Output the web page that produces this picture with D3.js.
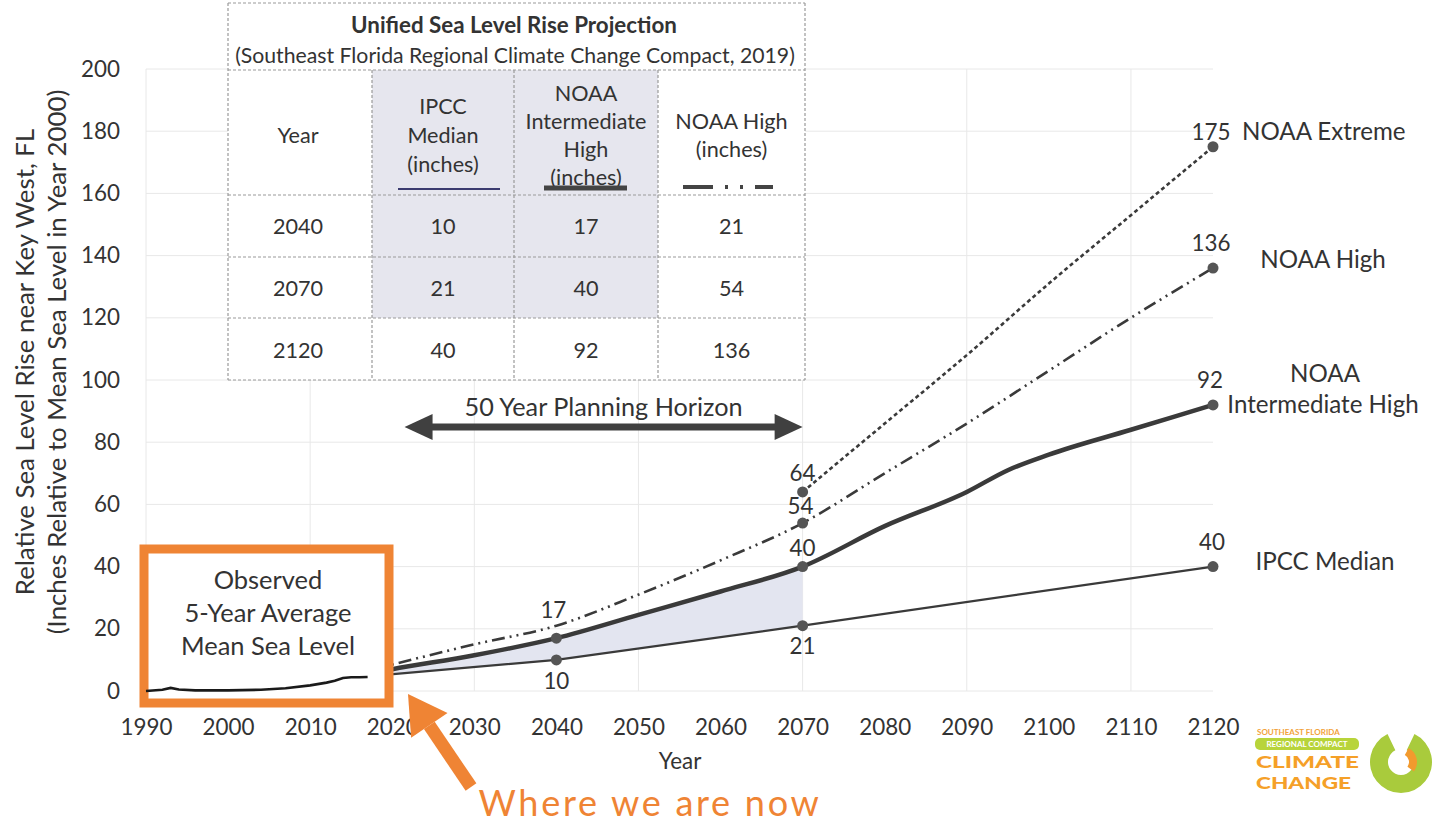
<!DOCTYPE html>
<html><head><meta charset="utf-8">
<script src="https://cdn.jsdelivr.net/npm/d3@7"></script>
<style>body{margin:0;background:#fff}svg{display:block}text{font-family:Lato,'Open Sans',sans-serif;fill:#333}</style>
</head><body><svg id="c" width="1433" height="823"></svg>
<script>
// ---------- data ----------
const tickYears = [1990,2000,2010,2020,2030,2040,2050,2060,2070,2080,2090,2100,2110,2120];
const yTicks = [0,20,40,60,80,100,120,140,160,180,200];
const gridYears = [1990,2010,2030,2050,2070,2090,2110];

const obsYears  = [1990,1992,1993,1994,1996,2000,2004,2007,2010,2012,2013,2014,2015,2016,2017];
const obsValues = [0,0.4,1.0,0.5,0.2,0.2,0.4,0.9,1.8,2.7,3.3,4.2,4.4,4.4,4.5];

const ipccYears  = [2017,2040,2070,2120];
const ipccValues = [4.7,10,21,40];
const ihYears  = [2017,2020,2030,2040,2050,2060,2070,2080,2090,2095,2100,2110,2120];
const ihValues = [5.5,7,11.5,17,24.5,32,40,53,64,71,76,84,92];
const highYears  = [2017,2020,2030,2040,2050,2060,2070,2080,2090,2100,2110,2120];
const highValues = [6.5,8.5,15,21,31,42,54,70,86,103,120,136];
const extYears  = [2070,2080,2090,2100,2110,2120];
const extValues = [64,86,108,131,153,175];

const ipccMarkYears = [2040,2070,2120];
const ihMarkYears   = [2040,2070,2120];
const highMarkYears = [2070,2120];
const extMarkYears  = [2070,2120];

const tableYears = ["2040","2070","2120"];
const tableIPCC  = [10,21,40];
const tableIH    = [17,40,92];
const tableHigh  = [21,54,136];

// ---------- setup ----------
const svg = d3.select('#c');
const x = d3.scaleLinear().domain([1990,2120]).range([146,1213]);
const y = d3.scaleLinear().domain([0,200]).range([691,69]);
const ink = '#333';
const orange = '#ef8434';

function sizeFor(str, weight, w){
  const t = svg.append('text').attr('font-size',100).attr('font-weight',weight).text(str);
  const l = t.node().getComputedTextLength(); t.remove(); return 100*w/l;
}
const fsTick = sizeFor('2080','normal',52);
const fsTable = sizeFor('Intermediate','normal',121);
const fsTitle = sizeFor('Unified Sea Level Rise Projection','bold',326);
const fsSub = sizeFor('(Southeast Florida Regional Climate Change Compact, 2019)','normal',560);
const fsYT = sizeFor('(Inches Relative to Mean Sea Level in Year 2000)','normal',545);
const fsLab = sizeFor('IPCC Median','normal',139);
const fsBox = sizeFor('5-Year Average','normal',167);
const fsHor = sizeFor('50 Year Planning Horizon','normal',278);
const fsNow = sizeFor('Where we are now','normal',300);

// ---------- grid ----------
const grid = svg.append('g').attr('stroke','#e8e8e8').attr('stroke-width',1);
grid.selectAll('line.h').data(yTicks).join('line')
  .attr('x1',x(1990)).attr('x2',x(2120)).attr('y1',d=>y(d)).attr('y2',d=>y(d));
grid.selectAll('line.v').data(gridYears).join('line')
  .attr('x1',d=>x(d)).attr('x2',d=>x(d)).attr('y1',y(0)).attr('y2',y(200));

// ---------- axes ----------
const xa = svg.append('g').attr('transform',`translate(0,${y(0)})`)
  .call(d3.axisBottom(x).tickValues(tickYears).tickFormat(d3.format('d')).tickSize(0).tickPadding(28));
xa.select('.domain').remove();
xa.selectAll('text').attr('font-size',fsTick).attr('font-family','Lato').attr('fill',ink);
const ya = svg.append('g').attr('transform',`translate(${x(1990)},0)`)
  .call(d3.axisLeft(y).tickValues(yTicks).tickSize(0).tickPadding(26));
ya.select('.domain').remove();
ya.selectAll('text').attr('font-size',fsTick).attr('font-family','Lato').attr('fill',ink);

svg.append('text').attr('x',680).attr('y',769).attr('text-anchor','middle').attr('font-size',fsTick).text('Year');
const yt = svg.append('g').attr('transform','translate(0,362) rotate(-90)');
yt.append('text').attr('x',0).attr('y',34).attr('text-anchor','middle').attr('font-size',fsYT).text('Relative Sea Level Rise near Key West, FL');
yt.append('text').attr('x',0).attr('y',66).attr('text-anchor','middle').attr('font-size',fsYT).text('(Inches Relative to Mean Sea Level in Year 2000)');

// ---------- series ----------
const pts = (ys,vs)=>ys.map((yr,i)=>[yr,vs[i]]);
const ipcc = pts(ipccYears,ipccValues), ih = pts(ihYears,ihValues),
      high = pts(highYears,highValues), ext = pts(extYears,extValues), obs = pts(obsYears,obsValues);
const curved = d3.line().x(d=>x(d[0])).y(d=>y(d[1])).curve(d3.curveMonotoneX);
const straight = d3.line().x(d=>x(d[0])).y(d=>y(d[1]));

// shaded band between IPCC and NOAA Intermediate High up to 2070
const ihSub = ih.filter(d=>d[0]<=2070);
const ipccSub = ipcc.filter(d=>d[0]<=2070).slice().reverse();
svg.append('path').attr('fill','#e3e5f0')
  .attr('d', curved(ihSub) + straight(ipccSub).replace(/^M/,'L') + 'Z');

svg.append('path').attr('d',curved(ext)).attr('fill','none').attr('stroke','#3a3a3a').attr('stroke-width',2.6).attr('stroke-dasharray','4,3');
svg.append('path').attr('d',curved(high)).attr('fill','none').attr('stroke','#3a3a3a').attr('stroke-width',2.6).attr('stroke-dasharray','13,5,2,5,2,5');
svg.append('path').attr('d',curved(ih)).attr('fill','none').attr('stroke','#3a3a3a').attr('stroke-width',4.5);
svg.append('path').attr('d',straight(ipcc)).attr('fill','none').attr('stroke','#3a3a3a').attr('stroke-width',2.2);

const marks = [];
ipccMarkYears.forEach(yr=>marks.push([yr, ipccValues[ipccYears.indexOf(yr)]]));
ihMarkYears.forEach(yr=>marks.push([yr, ihValues[ihYears.indexOf(yr)]]));
highMarkYears.forEach(yr=>marks.push([yr, highValues[highYears.indexOf(yr)]]));
extMarkYears.forEach(yr=>marks.push([yr, extValues[extYears.indexOf(yr)]]));
svg.selectAll('circle.m').data(marks).join('circle').attr('cx',d=>x(d[0])).attr('cy',d=>y(d[1])).attr('r',5.5).attr('fill','#555');

// value labels (offsets are layout)
const valLabel = (yr,v,dx,dy)=>svg.append('text').attr('x',x(yr)+dx).attr('y',y(v)+dy).attr('text-anchor','middle')
  .attr('font-size',fsTick).attr('dy','0.35em').text(v);
valLabel(2040,ihValues[ihYears.indexOf(2040)],-3,-28);
valLabel(2040,ipccValues[ipccYears.indexOf(2040)],0,21);
valLabel(2070,extValues[0],0,-19);
valLabel(2070,highValues[highYears.indexOf(2070)],-2,-17);
valLabel(2070,ihValues[ihYears.indexOf(2070)],0,-18);
valLabel(2070,ipccValues[ipccYears.indexOf(2070)],0,20);
valLabel(2120,extValues[extValues.length-1],-2,-15);
valLabel(2120,highValues[highValues.length-1],-2,-25);
valLabel(2120,ihValues[ihValues.length-1],-3,-25);
valLabel(2120,ipccValues[ipccValues.length-1],-1,-24);

const sideLab = (t,cx,cy,anchor)=>svg.append('text').attr('x',cx).attr('y',cy).attr('dy','0.35em').attr('text-anchor',anchor||'middle').attr('font-size',fsLab).text(t);
sideLab('NOAA Extreme',1242,132,'start');
sideLab('NOAA High',1323,260);
sideLab('NOAA',1325,374);
sideLab('Intermediate High',1323,405);
sideLab('IPCC Median',1325,562);

// ---------- table ----------
const T = {l:228,r:805,t:3,b:380, rows:[3,70,195,257,318,380], cols:[228,372,514,658,805]};
const tg = svg.append('g');
tg.append('rect').attr('x',T.l).attr('y',T.t).attr('width',T.r-T.l).attr('height',T.b-T.t).attr('fill','#fff');
tg.append('rect').attr('x',T.cols[1]).attr('y',T.rows[1]).attr('width',T.cols[3]-T.cols[1]).attr('height',T.rows[4]-T.rows[1]).attr('fill','#e6e6ee');
const bs = {stroke:'#9a9a9a','stroke-width':1.2,'stroke-dasharray':'3,2'};
T.rows.forEach(ry=>{const l=tg.append('line').attr('x1',T.l).attr('x2',T.r).attr('y1',ry).attr('y2',ry); Object.entries(bs).forEach(([k,v])=>l.attr(k,v));});
[T.l,T.r].forEach(cx=>{const l=tg.append('line').attr('x1',cx).attr('x2',cx).attr('y1',T.t).attr('y2',T.b); Object.entries(bs).forEach(([k,v])=>l.attr(k,v));});
T.cols.slice(1,4).forEach(cx=>{const l=tg.append('line').attr('x1',cx).attr('x2',cx).attr('y1',T.rows[1]).attr('y2',T.b); Object.entries(bs).forEach(([k,v])=>l.attr(k,v));});
tg.append('text').attr('x',514).attr('y',25).attr('dy','0.35em').attr('text-anchor','middle').attr('font-weight','bold').attr('font-size',fsTitle).text('Unified Sea Level Rise Projection');
tg.append('text').attr('x',515).attr('y',56).attr('dy','0.35em').attr('text-anchor','middle').attr('font-size',fsSub).text('(Southeast Florida Regional Climate Change Compact, 2019)');
const colC = T.cols.slice(0,4).map((c,i)=>(c+T.cols[i+1])/2);
const cellText = (t,cx,cy)=>tg.append('text').attr('x',cx).attr('y',cy).attr('dy','0.35em').attr('text-anchor','middle').attr('font-size',fsTable).text(t);
cellText('Year',colC[0]-2,135);
['IPCC','Median','(inches)'].forEach((t,i)=>cellText(t,colC[1],106+i*29));
['NOAA','Intermediate','High','(inches)'].forEach((t,i)=>cellText(t,colC[2],93+i*28));
['NOAA High','(inches)'].forEach((t,i)=>cellText(t,colC[3],121+i*28));
const rowC = [226,288,350];
tableYears.forEach((t,i)=>{cellText(t,colC[0]-2,rowC[i]);cellText(tableIPCC[i],colC[1],rowC[i]);cellText(tableIH[i],colC[2],rowC[i]);cellText(tableHigh[i],colC[3],rowC[i]);});
tg.append('line').attr('x1',398).attr('x2',500).attr('y1',189).attr('y2',189).attr('stroke','#3c3c70').attr('stroke-width',2);
tg.append('line').attr('x1',544).attr('x2',627).attr('y1',188).attr('y2',188).attr('stroke','#444').attr('stroke-width',5);
tg.append('line').attr('x1',683).attr('x2',782).attr('y1',187).attr('y2',187).attr('stroke','#444').attr('stroke-width',4).attr('stroke-dasharray','30,12,3,12,3,12,18');

// ---------- planning horizon ----------
const hy = 427, hx1 = x(2021.5), hx2 = x(2070);
svg.append('line').attr('x1',hx1+20).attr('x2',hx2-20).attr('y1',hy).attr('y2',hy).attr('stroke','#404040').attr('stroke-width',7);
svg.append('path').attr('fill','#404040').attr('d',`M${hx1},${hy}L${hx1+28},${hy-13}L${hx1+28},${hy+13}Z`);
svg.append('path').attr('fill','#404040').attr('d',`M${hx2},${hy}L${hx2-28},${hy-13}L${hx2-28},${hy+13}Z`);
svg.append('text').attr('x',(hx1+hx2)/2).attr('y',407).attr('dy','0.35em').attr('text-anchor','middle').attr('font-size',fsHor).text('50 Year Planning Horizon');

// ---------- observed box ----------
svg.append('rect').attr('x',144).attr('y',549).attr('width',245).attr('height',154).attr('fill','#fff').attr('stroke',orange).attr('stroke-width',9);
['Observed','5-Year Average','Mean Sea Level'].forEach((t,i)=>svg.append('text').attr('x',268).attr('y',580+i*33).attr('dy','0.35em').attr('text-anchor','middle').attr('font-size',fsBox).text(t));
svg.append('path').attr('d',straight(obs)).attr('fill','none').attr('stroke','#1a1a1a').attr('stroke-width',2.6);

// ---------- where we are now ----------
const ax0=[471,787], ax1=[408,694];
const ang = Math.atan2(ax1[1]-ax0[1], ax1[0]-ax0[0]);
const hl = 38, hw = 22;
const bx = ax1[0]-hl*Math.cos(ang), byy = ax1[1]-hl*Math.sin(ang);
svg.append('line').attr('x1',ax0[0]).attr('y1',ax0[1]).attr('x2',bx).attr('y2',byy).attr('stroke',orange).attr('stroke-width',13);
svg.append('path').attr('fill',orange).attr('d',`M${ax1[0]},${ax1[1]}L${bx+hw*Math.sin(ang)},${byy-hw*Math.cos(ang)}L${bx-hw*Math.sin(ang)},${byy+hw*Math.cos(ang)}Z`);
svg.append('text').attr('x',650).attr('y',803).attr('dy','0.35em').attr('text-anchor','middle').attr('font-size',fsNow)
  .attr('letter-spacing',2.7).style('fill',orange).text('Where we are now');

// ---------- logo ----------
const lg = svg.append('g');
lg.append('text').attr('x',1257).attr('y',735).attr('font-size',8).attr('font-weight','bold').style('fill','#f2a23a').text('SOUTHEAST FLORIDA');
lg.append('rect').attr('x',1255).attr('y',738).attr('width',104).attr('height',12).attr('rx',5).attr('fill','#b8d43a');
lg.append('text').attr('x',1307).attr('y',747).attr('text-anchor','middle').attr('font-size',8).attr('font-weight','bold').style('fill','#fff').text('REGIONAL COMPACT');
lg.append('text').attr('x',1256).attr('y',768).attr('font-size',16).attr('font-weight','900').attr('textLength',103).attr('lengthAdjust','spacingAndGlyphs').style('fill','#f5a028').text('CLIMATE');
lg.append('text').attr('x',1256).attr('y',789).attr('font-size',16).attr('font-weight','900').attr('textLength',95).attr('lengthAdjust','spacingAndGlyphs').style('fill','#f5a028').text('CHANGE');
const arc = d3.arc();
lg.append('path').attr('transform','translate(1401,762)').attr('fill','#a9cb3c')
  .attr('d',arc({innerRadius:13,outerRadius:31,startAngle:0.45,endAngle:2*Math.PI-0.45}));
lg.append('path').attr('transform','translate(1401,762)').attr('fill','#f29a2e')
  .attr('d',arc({innerRadius:8,outerRadius:16,startAngle:0.5,endAngle:2.2}));
</script></body></html>
